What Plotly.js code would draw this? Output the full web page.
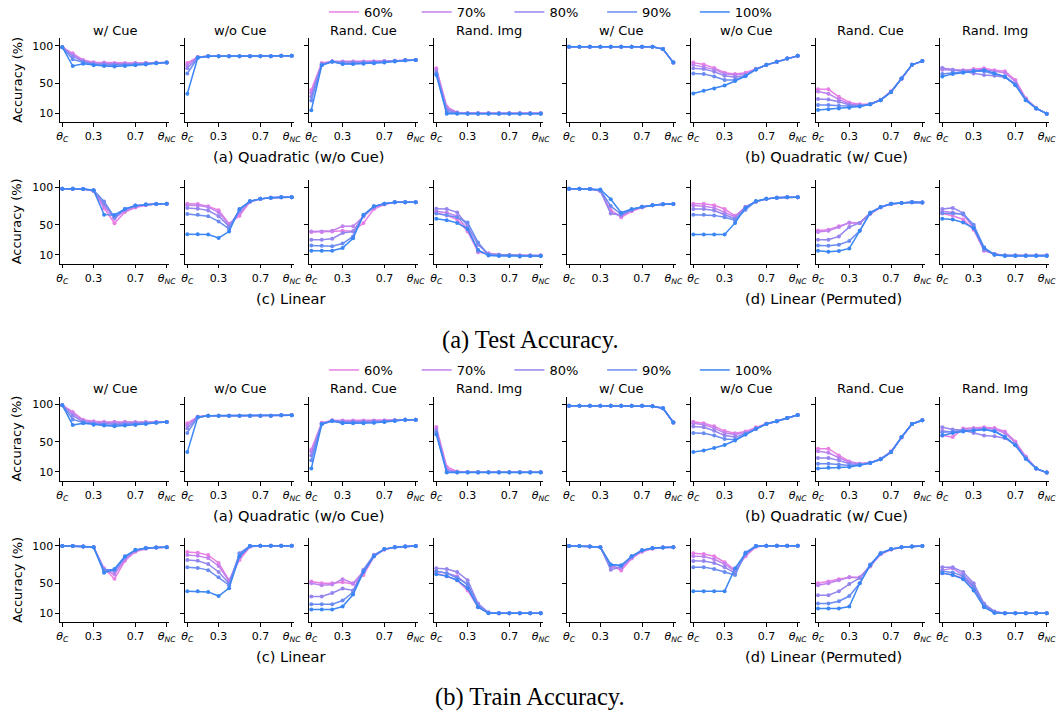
<!DOCTYPE html>
<html><head><meta charset="utf-8">
<script src="https://cdn.plot.ly/plotly-3.0.1.min.js"></script>
<style>html,body{margin:0;padding:0;background:#fff}</style>
</head><body><div id="chart" style="width:1060px;height:712px"></div>
<script>
const xVals = [0, 0.1, 0.2, 0.3, 0.4, 0.5, 0.6, 0.7, 0.8, 0.9, 1.0];
const levels = ['60%', '70%', '80%', '90%', '100%'];
const colors = ['#e97fe4', '#c082ee', '#9486ee', '#6a8cf2', '#3b86f5'];
const panelTitles = ['w/ Cue', 'w/o Cue', 'Rand. Cue', 'Rand. Img'];
const captions = ['(a) Quadratic (w/o Cue)', '(b) Quadratic (w/ Cue)', '(c) Linear', '(d) Linear (Permuted)'];
const blockTitles = ['(a) Test Accuracy.', '(b) Train Accuracy.'];
const xTickVals = [0, 0.3, 0.7, 1];
const xTickText = ['<i>θ</i><sub><i>C</i></sub>', '0.3', '0.7', '<i>θ</i><sub><i>NC</i></sub>'];
const yTickVals = [10, 50, 100];
const yLabel = 'Accuracy (%)';

// ---- Test accuracy, Quadratic (w/o Cue) ----
const testQuadA_wCue = [
  [98, 90, 81, 78, 77.5, 77, 77, 77, 77, 77.5, 77.5],
  [98, 88, 80, 77, 76.5, 76, 76, 76.5, 77, 77, 77.5],
  [98, 86, 79, 76, 75.5, 75, 75, 75.5, 76, 77, 77.5],
  [98, 82, 78, 75, 74, 74, 74, 75, 76, 76.5, 77.5],
  [98, 73, 76, 74, 73, 72.5, 73, 74, 75, 76.5, 77.5]];
const testQuadA_woCue = [
  [77, 85, 86, 86, 86, 86, 86, 86, 86, 86.5, 86.5],
  [74, 85, 86, 86, 86, 86, 86, 86, 86, 86.5, 86.5],
  [70, 84.5, 86, 86, 86, 86, 86, 86, 86, 86.5, 86.5],
  [63, 84, 86, 86, 86, 86, 86, 86, 86, 86.5, 86.5],
  [36, 84, 86, 86, 86, 86, 86, 86, 86, 86.5, 86.5]];
const testQuadA_randCue = [
  [41, 77, 79, 79, 79, 79, 79, 79.5, 80, 80.5, 81],
  [37, 76, 79, 78.5, 78.5, 78.5, 79, 79.5, 80, 80.5, 81],
  [32, 75, 79, 78, 78, 78, 78.5, 79, 80, 80.5, 81],
  [27, 74.5, 79, 76, 76, 76.5, 77, 78, 79.5, 80.5, 81],
  [14, 74, 78.5, 75.5, 75.5, 76, 76.5, 77.5, 79, 80.5, 81]];
const testQuadA_randImg = [
  [70, 19, 11, 10, 10, 10, 10, 10, 10, 10, 10],
  [68, 17, 11, 10, 10, 10, 10, 10, 10, 10, 10],
  [65, 15, 10.5, 10, 10, 10, 10, 10, 10, 10, 10],
  [63, 12, 10, 9.5, 9.5, 9.5, 9.5, 9.5, 9.5, 9.5, 9.5],
  [61, 9.5, 9.5, 9.5, 9.5, 9.5, 9.5, 9.5, 9.5, 9.5, 9.5]];
// ---- Test accuracy, Quadratic (w/ Cue) ----
const testQuadB_wCue = [
  [98.5, 98.5, 98.5, 98.5, 98.5, 98.5, 98.5, 98.5, 98.5, 95.5, 77.5],
  [98.5, 98.5, 98.5, 98.5, 98.5, 98.5, 98.5, 98.5, 98.5, 95.5, 77.5],
  [98.5, 98.5, 98.5, 98.5, 98.5, 98.5, 98.5, 98.5, 98.5, 95.5, 77.5],
  [98.5, 98.5, 98.5, 98.5, 98.5, 98.5, 98.5, 98.5, 98.5, 95.5, 77.5],
  [98.5, 98.5, 98.5, 98.5, 98.5, 98.5, 98.5, 98.5, 98.5, 95.5, 77.5]];
const testQuadB_woCue = [
  [77.5, 75, 70.5, 64, 62.5, 64, 69.5, 74.5, 78.5, 83, 86.5],
  [74.5, 72, 68.5, 62.5, 61, 62.5, 69, 74.5, 78.5, 83, 86.5],
  [70, 69, 65.5, 60, 58, 60.5, 68.5, 74.5, 78.5, 83, 86.5],
  [63, 62.5, 59, 54.5, 54.5, 60, 68.5, 74.5, 78.5, 83, 86.5],
  [36.5, 40, 43, 47, 53, 59.5, 68.5, 74.5, 78.5, 83, 86.5]];
const testQuadB_randCue = [
  [42, 42, 32, 24.5, 22, 22.5, 28, 39.5, 56, 74.5, 79.5],
  [39, 36, 28.5, 22.5, 21, 22, 28, 38.5, 56, 74.5, 79.5],
  [29, 28.5, 25.5, 21, 20, 22, 27.5, 38.5, 56.5, 74.5, 79.5],
  [21, 21, 20, 19.5, 19.5, 22, 27.5, 38.5, 56.5, 74.5, 79.5],
  [14.5, 15.5, 16.5, 17.5, 19, 22, 27.5, 38.5, 56.5, 74.5, 79.5]];
const testQuadB_randImg = [
  [70, 68, 67.5, 69, 70, 67.5, 66, 54.5, 30, 17, 9.5],
  [68, 67, 67, 68, 68.5, 66, 64, 52, 29, 16.5, 9.5],
  [70.5, 68, 65.5, 63, 61, 60, 58, 49, 28, 16.5, 9.5],
  [62.5, 64.5, 65.5, 66.5, 66, 62, 59.5, 48, 27.5, 16.5, 9.5],
  [59, 62.5, 64, 66, 67.5, 63.5, 58.5, 47.5, 27.5, 16.5, 9.5]];
// ---- Test accuracy, Linear ----
const testLin_wCue = [
  [98, 98, 97.5, 95, 72, 52, 67, 73, 76, 77.5, 78],
  [98, 98, 97.5, 95, 75, 58, 69, 74, 76.5, 77.5, 78],
  [98, 98, 97.5, 95.5, 78, 60, 70, 75, 77, 77.5, 78],
  [98, 98, 97.5, 96, 81, 60, 71, 75.5, 77, 77.5, 78],
  [98, 98, 97.5, 96, 63.5, 63, 71, 75.5, 77, 77.5, 78]];
const testLin_woCue = [
  [78, 77.5, 74.5, 69.5, 51.5, 62, 80.5, 84.5, 86, 86.5, 86.5],
  [76, 75.5, 73.5, 66.5, 50, 66, 80.5, 84.5, 86, 86.5, 86.5],
  [72.5, 71.5, 69, 61.5, 48, 69, 81, 84.5, 86, 86.5, 86.5],
  [64.5, 63.5, 61.5, 54.5, 44.5, 70, 81, 84.5, 86, 86.5, 86.5],
  [37.5, 37.5, 37, 32.5, 41, 71, 81.5, 84.5, 86, 86.5, 86.5]];
const testLin_randCue = [
  [40.5, 40.5, 41, 42, 41.5, 52.5, 71, 77, 80, 80, 80],
  [41, 41, 42, 48, 48, 61, 73, 77.5, 80, 80, 80],
  [30, 30, 31.5, 39, 41, 62, 74, 78, 80, 80, 80],
  [22.5, 22, 21.5, 25, 34.5, 62.5, 74.5, 78, 80, 80, 80],
  [15.5, 15.5, 15.5, 19, 32, 63.5, 74.5, 78, 80, 80, 80]];
const testLin_randImg = [
  [66, 62.5, 57, 41, 14.5, 12, 10, 9.5, 9, 9, 9],
  [68, 66, 61.5, 43.5, 13.5, 11, 10, 9.5, 9, 9, 9],
  [71.5, 71, 66.5, 48, 23.5, 11, 10, 9.5, 9, 9, 9],
  [65, 63, 60, 53, 26.5, 10, 9.5, 9, 8, 8.5, 8.5],
  [58, 56, 52.5, 44.5, 16.5, 9, 8.5, 8.5, 7.8, 8.5, 8.5]];
// ---- Test accuracy, Linear (Permuted) ----
const testLinP_wCue = [
  [98, 98, 97.5, 95, 70, 60, 68, 73, 76, 77.3, 77.8],
  [98, 98, 97.5, 95, 66, 62, 69, 73.5, 76, 77.3, 77.8],
  [98, 98, 97.5, 95.5, 65, 63, 70, 74, 76, 77.3, 77.8],
  [98, 98, 97.5, 96, 75, 64, 70.5, 74, 76, 77.3, 77.8],
  [98, 98, 97.5, 97, 84, 66, 71, 74, 76, 77.3, 77.8]];
const testLinP_woCue = [
  [78, 78, 76, 71, 62, 73.5, 80.5, 84.5, 86, 86.5, 86.5],
  [75.5, 74.5, 72.5, 66.5, 60.5, 73.5, 81, 84.5, 86, 86.5, 86.5],
  [71, 71, 69, 63.5, 58, 73.5, 81, 84.5, 86, 86.5, 86.5],
  [63.5, 63.5, 62.5, 60, 56, 70, 81, 84.5, 86, 86.5, 86.5],
  [37, 37, 37, 37, 52.5, 72.5, 81.5, 84.5, 86, 86.5, 86.5]];
const testLinP_randCue = [
  [42.5, 43.5, 48, 52.5, 52.5, 64.5, 73, 77.5, 79, 80, 79.5],
  [40.5, 42, 47, 53, 52.5, 65.5, 73.5, 77.5, 79, 80, 79.5],
  [30, 30, 34.5, 47, 52.5, 65.5, 73.5, 78, 79, 80, 79.5],
  [22.5, 22, 23.5, 28.5, 42, 66.5, 73.5, 78, 79, 80, 79.5],
  [15.5, 14, 15, 18.5, 42, 65.5, 73.5, 78, 79, 80, 79.5]];
const testLinP_randImg = [
  [65, 62, 57, 43.5, 15.5, 11, 9, 9, 9, 9, 9],
  [68, 66.5, 63.5, 46, 16, 11, 9, 9, 9, 9, 9],
  [71, 72.5, 65.5, 48, 16.5, 11, 9, 9, 9, 9, 9],
  [65.5, 65.5, 64.5, 50, 20, 10, 9, 9, 9, 9, 9],
  [58, 57, 53, 45.5, 19, 10, 8.5, 8.5, 8.5, 8.5, 8.5]];
// ---- Train accuracy, Quadratic (w/o Cue) ----
const trainQuadA_wCue = [
  [99, 90, 79.5, 77.5, 77, 77, 77, 76.5, 76.5, 76.5, 76.5],
  [99, 88, 78.5, 76.5, 76, 76, 76, 76, 76, 76.5, 76.5],
  [99, 85, 77, 75, 74.5, 74, 74.5, 75, 75.5, 76, 76.5],
  [99, 80, 76, 74, 73, 72.5, 73, 73.5, 74.5, 75.5, 76.5],
  [99, 72.5, 75, 73, 72, 71, 72, 72.5, 74, 75.5, 76.5]];
const trainQuadA_woCue = [
  [75, 83.5, 85, 85, 85, 85, 85, 85, 85, 85.5, 85.5],
  [72, 83.5, 85, 85, 85, 85, 85, 85, 85, 85.5, 85.5],
  [68, 83, 85, 85, 85, 85, 85, 85, 85, 85.5, 85.5],
  [62, 83, 85, 85, 85, 85, 85, 85, 85, 85.5, 85.5],
  [36.5, 83, 85, 85, 85, 85, 85, 85, 85, 85.5, 85.5]];
const trainQuadA_randCue = [
  [40, 75.5, 78.5, 78.5, 78.5, 78.5, 78.5, 78.5, 79, 79.5, 79.5],
  [37, 75, 78.5, 78, 78, 78, 78, 78.5, 79, 79.5, 79.5],
  [32, 74.5, 78.5, 77, 77, 77, 77.5, 78, 79, 79.5, 79.5],
  [25.5, 74, 78, 75.5, 75.5, 75.5, 76, 77, 78.5, 79.5, 79.5],
  [14.5, 73.5, 78, 75, 75, 75, 75.5, 76.5, 78, 79.5, 79.5]];
const trainQuadA_randImg = [
  [70, 17, 10.5, 9.5, 9.5, 9.5, 9.5, 9.5, 9.5, 9.5, 9.5],
  [67.5, 14, 10, 9.5, 9.5, 9.5, 9.5, 9.5, 9.5, 9.5, 9.5],
  [65, 12, 9.5, 9.5, 9.5, 9.5, 9.5, 9.5, 9.5, 9.5, 9.5],
  [62.5, 10, 9.5, 9.5, 9.5, 9.5, 9.5, 9.5, 9.5, 9.5, 9.5],
  [60, 9.2, 9.2, 9.2, 9.2, 9.2, 9.2, 9.2, 9.2, 9.2, 9.2]];
// ---- Train accuracy, Quadratic (w/ Cue) ----
const trainQuadB_wCue = [
  [98.3, 98.3, 98.3, 98.3, 98.3, 98.3, 98.3, 98.3, 97.5, 95, 76],
  [98.3, 98.3, 98.3, 98.3, 98.3, 98.3, 98.3, 98.3, 97.5, 95, 76],
  [98.3, 98.3, 98.3, 98.3, 98.3, 98.3, 98.3, 98.3, 97.5, 95, 76],
  [98.3, 98.3, 98.3, 98.3, 98.3, 98.3, 98.3, 98.3, 97.5, 95, 76],
  [98.3, 98.3, 98.3, 98.3, 98.3, 98.3, 98.3, 98.3, 97.5, 95, 76]];
const trainQuadB_woCue = [
  [77, 75, 71, 64.5, 61.5, 64, 69.5, 74.5, 77.5, 82, 86],
  [75, 73, 68.5, 62, 60, 62.5, 68, 74, 77.5, 82, 86],
  [70.5, 69.5, 65, 58.5, 56.5, 61, 67.5, 74, 77.5, 82, 86],
  [62, 61.5, 58.5, 54, 53, 60, 67.5, 74, 77.5, 82, 86],
  [36.5, 38.5, 42, 46, 52, 60, 67.5, 74, 77.5, 82, 86]];
const trainQuadB_randCue = [
  [41, 41, 32, 24, 21, 22.5, 27.5, 37.5, 56, 74, 79],
  [37.5, 35.5, 29, 23, 21, 22, 27.5, 36.5, 56, 74, 79],
  [28.5, 28.5, 25.5, 21, 20, 22, 27, 36.5, 56.5, 74, 79],
  [21, 21, 20, 18.5, 19.5, 22, 27, 36.5, 56.5, 74, 79],
  [14.5, 15.5, 16, 16.5, 19, 22, 27, 36.5, 56.5, 74, 79]];
const trainQuadB_randImg = [
  [58.5, 56.5, 68, 68.5, 69.5, 68.5, 64, 50.5, 30.5, 14.5, 9.2],
  [65, 63, 66.5, 68, 68.5, 67, 62, 49, 29.5, 14.5, 9.2],
  [69.5, 66.5, 65.5, 62, 58.5, 57.5, 55, 46.5, 28, 14.5, 9.2],
  [63, 64, 65, 66, 66.5, 64.5, 57, 45.5, 27.5, 14.5, 9.2],
  [58.5, 62, 64, 65, 66.5, 64, 56.5, 45.5, 27.5, 14.5, 9.2]];
// ---- Train accuracy, Linear ----
const trainLin_wCue = [
  [99.5, 99.5, 99, 98, 70, 56, 80, 92, 96, 97.5, 98],
  [99.5, 99.5, 99, 98, 68, 62, 82, 93, 96.5, 97.5, 98],
  [99.5, 99.5, 99, 98, 67, 66, 84, 94, 96.5, 97.5, 98],
  [99.5, 99.5, 99, 98, 68, 68, 85, 94, 96.5, 97.5, 98],
  [99.5, 99.5, 99, 98, 64, 69, 86, 94.5, 97, 97.5, 98]];
const trainLin_woCue = [
  [91.5, 90.5, 87.5, 77, 54, 81, 98.5, 100, 100, 100, 100],
  [87.5, 86.5, 83.5, 73, 53, 85, 99, 100, 100, 100, 100],
  [81, 80, 75.5, 65, 50, 89, 99.5, 100, 100, 100, 100],
  [71.5, 70.5, 67.5, 58, 47.5, 90, 99.5, 100, 100, 100, 100],
  [39.5, 39.5, 38.5, 33, 43.5, 86, 99.5, 100, 100, 100, 100]];
const trainLin_randCue = [
  [52.5, 50, 50, 51.5, 49, 61, 85.5, 95, 98, 99, 99.5],
  [50, 47.5, 48.5, 55.5, 50, 66, 87, 95, 98, 99, 99.5],
  [32.5, 32.5, 37, 43, 40.5, 68, 88, 95.5, 98, 99, 99.5],
  [22, 22, 22, 27, 38, 67, 87, 95.5, 98, 99, 99.5],
  [15, 15, 15, 19, 35, 65, 86, 95.5, 98, 99, 99.5]];
const trainLin_randImg = [
  [63.5, 59.5, 54, 40.5, 18, 11, 10, 10, 10, 10, 10],
  [66, 63.5, 59.5, 47.5, 20.5, 11, 10, 10, 10, 10, 10],
  [70, 69, 65, 54, 23, 11, 10, 10, 10, 10, 10],
  [66, 63.5, 57, 49, 19.5, 10.5, 10, 10, 10, 10, 10],
  [62, 59.5, 54, 43.5, 18, 10, 10, 10, 10, 10, 10]];
// ---- Train accuracy, Linear (Permuted) ----
const trainLinP_wCue = [
  [99.5, 99.5, 99, 98, 74, 67, 83, 92, 96, 97.5, 98],
  [99.5, 99.5, 99, 98, 72, 70, 84, 93, 96.5, 97.5, 98],
  [99.5, 99.5, 99, 98, 68, 72, 85, 93.5, 96.5, 97.5, 98],
  [99.5, 99.5, 99, 98, 74, 73, 86, 94, 96.5, 97.5, 98],
  [99.5, 99.5, 99, 98, 75, 74, 86, 94, 97, 97.5, 98]];
const trainLinP_woCue = [
  [90, 89, 86, 78, 67.5, 86, 98.5, 100, 100, 100, 100],
  [86, 85.5, 82, 75.5, 66, 88, 99, 100, 100, 100, 100],
  [79.5, 79.5, 77, 71.5, 63.5, 89, 99.5, 100, 100, 100, 100],
  [71.5, 71.5, 69, 65, 61, 91, 99.5, 100, 100, 100, 100],
  [39.5, 39.5, 39.5, 39.5, 70, 90, 99.5, 100, 100, 100, 100]];
const trainLinP_randCue = [
  [50, 52.5, 55.5, 58, 58, 72.5, 88.5, 95, 98, 99, 99.5],
  [47.5, 50, 54, 58, 57, 74, 89, 95, 98, 99, 99.5],
  [34, 34, 39.5, 49, 57, 74, 89.5, 95.5, 98, 99, 99.5],
  [23, 23, 26, 33, 50, 75, 90, 95.5, 98, 99, 99.5],
  [16.5, 16.5, 16.5, 19, 50, 74, 90, 95.5, 98, 99, 99.5]];
const trainLinP_randImg = [
  [63.5, 61, 57, 43.5, 19.5, 11.5, 10, 10, 10, 10, 10],
  [67.5, 70, 61, 47.5, 20.5, 12, 10, 10, 10, 10, 10],
  [71.5, 71.5, 65, 50, 23, 12.5, 10, 10, 10, 10, 10],
  [66, 64.5, 59.5, 45, 20.5, 11, 10, 10, 10, 10, 10],
  [63.5, 61, 55.5, 40.5, 18, 10.5, 10, 10, 10, 10, 10]];

const panelData = [
  testQuadA_wCue, testQuadA_woCue, testQuadA_randCue, testQuadA_randImg,
  testQuadB_wCue, testQuadB_woCue, testQuadB_randCue, testQuadB_randImg,
  testLin_wCue, testLin_woCue, testLin_randCue, testLin_randImg,
  testLinP_wCue, testLinP_woCue, testLinP_randCue, testLinP_randImg,
  trainQuadA_wCue, trainQuadA_woCue, trainQuadA_randCue, trainQuadA_randImg,
  trainQuadB_wCue, trainQuadB_woCue, trainQuadB_randCue, trainQuadB_randImg,
  trainLin_wCue, trainLin_woCue, trainLin_randCue, trainLin_randImg,
  trainLinP_wCue, trainLinP_woCue, trainLinP_randCue, trainLinP_randImg];

// ---- geometry (pixels) ----
const W = 1060, H = 712;
const colLeft = [60, 185, 309, 434, 566.7, 691, 815.7, 940];
const axW = 109;
const rowTop = [38, 179.5, 396.7, 538];
const axH = 84.3;
const captionCenter = [[299, 826.3], [290, 823], [299, 826.3], [290, 823]];
const FONT = 'DejaVu Sans, sans-serif';

const traces = [];
const layout = {
  width: W, height: H, margin: {l: 0, r: 0, t: 0, b: 0, autoexpand: false},
  paper_bgcolor: '#fff', plot_bgcolor: 'rgba(0,0,0,0)',
  font: {family: FONT, color: '#000', size: 11},
  showlegend: true,
  annotations: [],
  legend: {orientation: 'h', x: 324 / W, xanchor: 'left', y: 1 - 12 / H, yanchor: 'middle',
           bgcolor: 'rgba(0,0,0,0)', font: {size: 13, family: FONT, color: '#000'},
           entrywidth: 47.7, entrywidthmode: 'pixels', itemclick: false},
  legend2: {orientation: 'h', x: 324 / W, xanchor: 'left', y: 1 - 370 / H, yanchor: 'middle',
           bgcolor: 'rgba(0,0,0,0)', font: {size: 13, family: FONT, color: '#000'},
           entrywidth: 47.7, entrywidthmode: 'pixels', itemclick: false}
};

for (let p = 0; p < 32; p++) {
  const r = Math.floor(p / 8), c = p % 8;
  const n = p + 1;
  const xa = n === 1 ? 'x' : 'x' + n, ya = n === 1 ? 'y' : 'y' + n;
  const l = colLeft[c], t = rowTop[r];
  layout['xaxis' + (n === 1 ? '' : n)] = {
    domain: [l / W, (l + axW) / W], range: [-0.022, 1.022], anchor: ya,
    showline: true, linecolor: '#000', linewidth: 1.1, mirror: false,
    ticks: 'outside', ticklen: 3.5, tickwidth: 1, tickcolor: '#000',
    showgrid: false, zeroline: false, tickmode: 'array',
    tickvals: xTickVals, ticktext: xTickText,
    tickfont: {size: 11, family: FONT, color: '#000'}, fixedrange: true
  };
  layout['yaxis' + (n === 1 ? '' : n)] = {
    domain: [1 - (t + axH) / H, 1 - t / H], range: [-2, 110.3], anchor: xa,
    showline: true, linecolor: '#000', linewidth: 1.1,
    ticks: 'outside', ticklen: 3.5, tickwidth: 1, tickcolor: '#000',
    showgrid: false, zeroline: false, tickmode: 'array', tickvals: yTickVals,
    showticklabels: c === 0, tickfont: {size: 11, family: FONT, color: '#000'}, fixedrange: true
  };
  const data = panelData[p];
  for (let k = 0; k < levels.length; k++) {
    traces.push({
      x: xVals, y: data[k], xaxis: xa, yaxis: ya, type: 'scatter', mode: 'lines+markers',
      name: levels[k], showlegend: false, hoverinfo: 'skip',
      line: {color: colors[k], width: 1.5}, marker: {color: colors[k], size: 4}
    });
  }
  // subplot titles only on the first row of each block
  if (r === 0 || r === 2) {
    layout.annotations.push({
      text: panelTitles[c % 4], xref: 'paper', yref: 'paper',
      x: (l + axW / 2) / W, y: 1 - (t - 8) / H, xanchor: 'center', yanchor: 'middle',
      showarrow: false, font: {size: 13, family: FONT, color: '#000'}
    });
  }
}

// legend entries (line samples only)
for (let k = 0; k < levels.length; k++) {
  traces.push({x: [null], y: [null], xaxis: 'x', yaxis: 'y', mode: 'lines', name: levels[k],
    line: {color: colors[k], width: 1.5}, showlegend: true, legend: 'legend', hoverinfo: 'skip'});
}
for (let k = 0; k < levels.length; k++) {
  traces.push({x: [null], y: [null], xaxis: 'x17', yaxis: 'y17', mode: 'lines', name: levels[k],
    line: {color: colors[k], width: 1.5}, showlegend: true, legend: 'legend2', hoverinfo: 'skip'});
}

// y-axis labels and captions
for (let r = 0; r < 4; r++) {
  layout.annotations.push({
    text: yLabel, xref: 'paper', yref: 'paper', x: 16.7 / W, y: 1 - (rowTop[r] + axH / 2) / H,
    xanchor: 'center', yanchor: 'middle', textangle: -90, showarrow: false,
    font: {size: 13, family: FONT, color: '#000'}
  });
  for (let g = 0; g < 2; g++) {
    const capIdx = (r % 2) * 2 + g;
    layout.annotations.push({
      text: captions[capIdx], xref: 'paper', yref: 'paper',
      x: captionCenter[r][g] / W, y: 1 - (rowTop[r] + axH + 34.5) / H,
      xanchor: 'center', yanchor: 'middle', showarrow: false,
      font: {size: 14.6, family: FONT, color: '#000'}
    });
  }
}
// block titles
const blockY = [339.5, 696.5];
for (let b = 0; b < 2; b++) {
  layout.annotations.push({
    text: blockTitles[b], xref: 'paper', yref: 'paper', x: 530 / W, y: 1 - blockY[b] / H,
    xanchor: 'center', yanchor: 'middle', showarrow: false,
    font: {size: 24.5, family: 'Liberation Serif, Times New Roman, serif', color: '#000'}
  });
}

Plotly.newPlot('chart', traces, layout, {displayModeBar: false, staticPlot: true});
</script>
</body></html>
